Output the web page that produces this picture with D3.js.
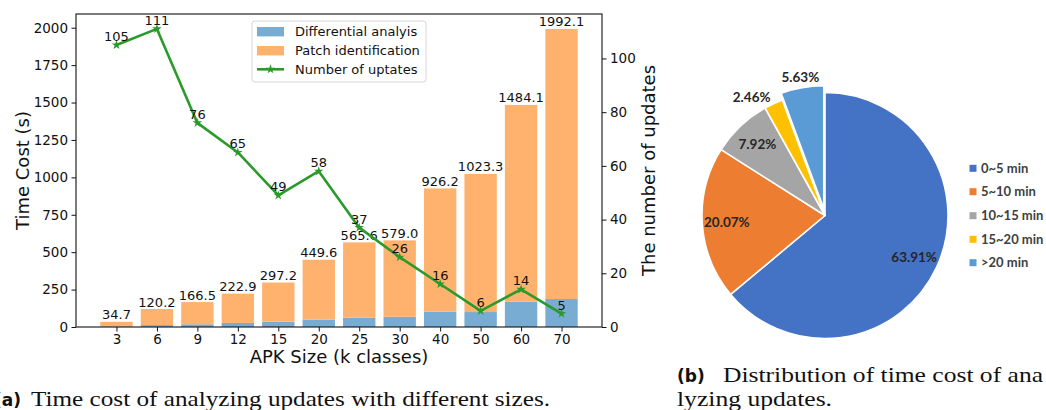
<!DOCTYPE html>
<html><head><meta charset="utf-8">
<script src="https://cdn.jsdelivr.net/npm/d3@7/dist/d3.min.js"></script>
<style>
html,body{margin:0;padding:0;background:#fff;overflow:hidden}
svg{display:block}
</style></head>
<body>
<svg id="c" width="1046" height="410" font-family="DejaVu Sans"></svg>
<script>
// ---- data ----
const categories = ["3","6","9","12","15","20","25","30","40","50","60","70"];
const totalCost = [34.7,120.2,166.5,222.9,297.2,449.6,565.6,579.0,926.2,1023.3,1484.1,1992.1];
const diffAnalysis = [3,13,18,27,36,49,62,69,103,100,169,187];
const updates = [105,111,76,65,49,58,37,26,16,6,14,5];
const leftTicks = [0,250,500,750,1000,1250,1500,1750,2000];
const rightTicks = [0,20,40,60,80,100];
const seriesNames = ["Differential analyis","Patch identification","Number of uptates"];

const pieLabels = ["0~5 min","5~10 min","10~15 min","15~20 min",">20 min"];
const pieValues = [63.91,20.07,7.92,2.46,5.63];
const pieColors = ["#4472C4","#ED7D31","#A5A5A5","#FFC000","#5B9BD5"];

const patchId = totalCost.map((t,i)=>t-diffAnalysis[i]);

const svg = d3.select("#c");
const SANS = "DejaVu Sans";
const blue = "#79acd2", orange = "#ffb26e", green = "#2a9a2a";

// ---- left chart ----
const L = {left:76, right:602, top:14, bottom:327};
const x = d3.scaleLinear().domain([-1,12]).range([L.left,L.right]);
const y = d3.scaleLinear().domain([0,1992.1*1.05]).range([L.bottom,L.top]);
const y2 = d3.scaleLinear().domain([0,111*1.05]).range([L.bottom,L.top]);
const bw = (x(1)-x(0))*0.8;

const g = svg.append("g");
g.selectAll("rect.d").data(diffAnalysis).join("rect")
  .attr("x",(d,i)=>x(i)-bw/2).attr("width",bw)
  .attr("y",d=>y(d)).attr("height",d=>y(0)-y(d)).attr("fill",blue);
g.selectAll("rect.p").data(patchId).join("rect")
  .attr("x",(d,i)=>x(i)-bw/2).attr("width",bw)
  .attr("y",(d,i)=>y(d+diffAnalysis[i])).attr("height",d=>y(0)-y(d)).attr("fill",orange);
g.selectAll("text.bl").data(totalCost).join("text")
  .attr("x",(d,i)=>x(i)).attr("y",d=>y(d)-2.5)
  .attr("text-anchor","middle").attr("font-family",SANS).attr("font-size",13)
  .attr("fill","#111").text(d=>d.toFixed(1));

const line = d3.line().x((d,i)=>x(i)).y(d=>y2(d));
g.append("path").datum(updates).attr("d",line).attr("fill","none")
  .attr("stroke",green).attr("stroke-width",2.6).attr("stroke-linejoin","round");
const star = d3.symbol().type(d3.symbolStar).size(28);
g.selectAll("path.m").data(updates).join("path")
  .attr("transform",(d,i)=>`translate(${x(i)},${y2(d)})`).attr("d",star).attr("fill",green);
g.selectAll("text.ll").data(updates).join("text")
  .attr("x",(d,i)=>x(i)).attr("y",d=>y2(d)-4)
  .attr("text-anchor","middle").attr("font-family",SANS).attr("font-size",13)
  .attr("fill","#111").text(d=>d);

const fmtAxis = sel => {
  sel.attr("font-family",SANS);
  sel.selectAll("text").attr("font-family",SANS).attr("font-size",13.5).attr("fill","#111");
  sel.selectAll("line").attr("stroke","#111");
  sel.select(".domain").remove();
};
svg.append("g").attr("transform",`translate(${L.left},0)`)
  .call(d3.axisLeft(y).tickValues(leftTicks).tickFormat(d3.format("d")).tickSize(4.5).tickPadding(3.5)).call(fmtAxis);
svg.append("g").attr("transform",`translate(${L.right},0)`)
  .call(d3.axisRight(y2).tickValues(rightTicks).tickFormat(d3.format("d")).tickSize(4.5).tickPadding(3.5)).call(fmtAxis);
svg.append("g").attr("transform",`translate(0,${L.bottom})`)
  .call(d3.axisBottom(x).tickValues(d3.range(categories.length)).tickFormat(i=>categories[i]).tickSize(4.5).tickPadding(3)).call(fmtAxis);
svg.append("rect").attr("x",L.left).attr("y",L.top).attr("width",L.right-L.left).attr("height",L.bottom-L.top)
  .attr("fill","none").attr("stroke","#111").attr("stroke-width",1.1);

svg.append("text").attr("transform",`translate(29,${(L.top+L.bottom)/2}) rotate(-90)`)
  .attr("text-anchor","middle").attr("font-family",SANS).attr("font-size",18).attr("fill","#111").text("Time Cost (s)");
svg.append("text").attr("transform",`translate(655,${(L.top+L.bottom)/2}) rotate(-90)`)
  .attr("text-anchor","middle").attr("font-family",SANS).attr("font-size",18).attr("fill","#111").text("The number of updates");
svg.append("text").attr("x",(L.left+L.right)/2).attr("y",363)
  .attr("text-anchor","middle").attr("font-family",SANS).attr("font-size",18).attr("fill","#111").text("APK Size (k classes)");

const lg = svg.append("g");
lg.append("rect").attr("x",252).attr("y",21).attr("width",174).attr("height",61).attr("rx",3)
  .attr("fill","#fff").attr("fill-opacity",0.8).attr("stroke","#d6d6d6");
const ly = [31.7,50.7,69.3];
lg.append("rect").attr("x",257).attr("y",ly[0]-4.7).attr("width",27).attr("height",9.4).attr("fill",blue);
lg.append("rect").attr("x",257).attr("y",ly[1]-4.7).attr("width",27).attr("height",9.4).attr("fill",orange);
lg.append("line").attr("x1",257).attr("x2",284).attr("y1",ly[2]).attr("y2",ly[2]).attr("stroke",green).attr("stroke-width",2.6);
lg.append("path").attr("transform",`translate(270.5,${ly[2]})`).attr("d",star).attr("fill",green);
seriesNames.forEach((s,i)=>lg.append("text").attr("x",295).attr("y",ly[i]).attr("dy","0.36em")
  .attr("font-family",SANS).attr("font-size",13).attr("fill","#111").text(s));

// ---- pie ----
const cx = 825, cy = 215.5, R = 123;
const pie = d3.pie().sort(null).startAngle(0).endAngle(2*Math.PI).value(d=>d);
const arcs = pie(pieValues);
const arc = d3.arc().innerRadius(0).outerRadius(R);
const pg = svg.append("g").attr("transform",`translate(${cx},${cy})`);
const last = pieValues.length-1;
pg.selectAll("path").data(arcs).join("path")
  .attr("d",arc)
  .attr("transform",(d,i)=>{
    if(i!==last) return null;
    const a=(d.startAngle+d.endAngle)/2, off=7;
    return `translate(${Math.sin(a)*off},${-Math.cos(a)*off})`;
  })
  .attr("fill",(d,i)=>pieColors[i]).attr("stroke","#fff").attr("stroke-width",1.6).attr("stroke-linejoin","round");
pg.selectAll("text").data(arcs).join("text")
  .each(function(d,i){
    const a=(d.startAngle+d.endAngle)/2;
    const pct=d.value;
    let r, anchor="middle";
    if(pct>=6){ r=R*0.8; }
    else if(pct<3){ r=R*1.06; anchor="end"; }
    else { r=R*1.14; }
    d3.select(this).attr("x",Math.sin(a)*r).attr("y",-Math.cos(a)*r).attr("text-anchor",anchor);
  })
  .attr("dy","0.36em").attr("font-family","Lato").attr("font-weight","bold").attr("font-size",13.5).attr("fill","#262626")
  .text(d=>d.value.toFixed(2)+"%");

const plY = [168.3,191.7,215.7,239.3,262.7];
const pl = svg.append("g");
pieLabels.forEach((s,i)=>{
  pl.append("rect").attr("x",969.5).attr("y",plY[i]-3.5).attr("width",7).attr("height",7).attr("fill",pieColors[i]);
  pl.append("text").attr("x",981).attr("y",plY[i]).attr("dy","0.36em").attr("font-family","Lato")
    .attr("font-weight","bold").attr("font-size",13).attr("fill","#404040").text(s);
});

// ---- captions ----
const SERIF = "Liberation Serif";
svg.append("text").attr("x",21).attr("y",406).attr("text-anchor","end")
  .attr("font-family","DejaVu Sans").attr("font-weight","bold").attr("font-size",17).attr("fill","#111").text("(a)");
svg.append("text").attr("x",31).attr("y",406).attr("font-family",SERIF).attr("font-size",22)
  .attr("fill","#111").attr("textLength",519).attr("lengthAdjust","spacingAndGlyphs")
  .text("Time cost of analyzing updates with different sizes.");
svg.append("text").attr("x",677).attr("y",382)
  .attr("font-family","DejaVu Sans").attr("font-weight","bold").attr("font-size",17).attr("fill","#111").text("(b)");
svg.append("text").attr("x",723).attr("y",382).attr("font-family",SERIF).attr("font-size",22)
  .attr("fill","#111").attr("textLength",320).attr("lengthAdjust","spacingAndGlyphs")
  .text("Distribution of time cost of ana");
svg.append("text").attr("x",677).attr("y",406).attr("font-family",SERIF).attr("font-size",22)
  .attr("fill","#111").attr("textLength",155).attr("lengthAdjust","spacingAndGlyphs")
  .text("lyzing updates.");
</script>
</body></html>
